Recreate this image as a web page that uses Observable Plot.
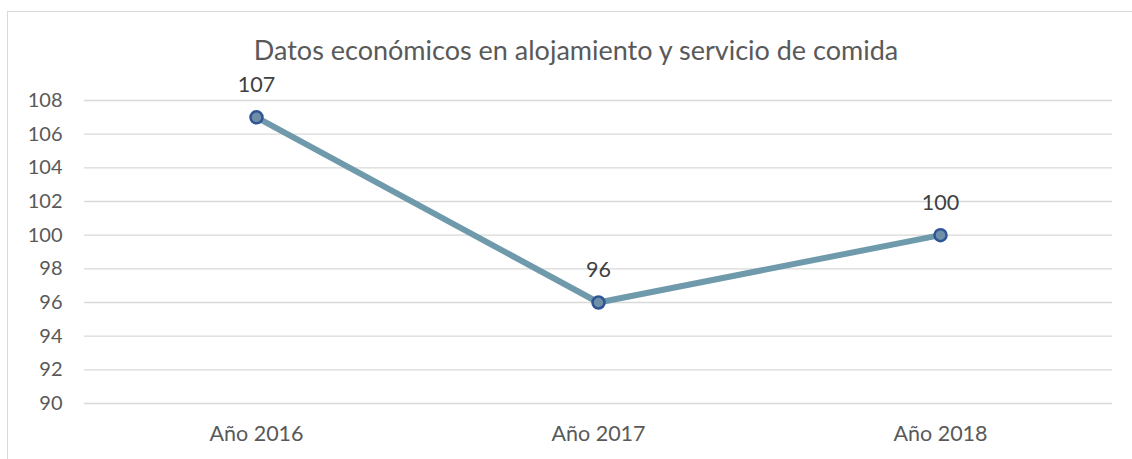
<!DOCTYPE html>
<html><head><meta charset="utf-8">
<script src="https://cdn.jsdelivr.net/npm/d3@7"></script>
<script src="https://cdn.jsdelivr.net/npm/@observablehq/plot@0.6"></script>
<style>
html,body{margin:0;padding:0;background:#fff;}
#wrap{position:relative;width:1132px;height:459px;overflow:hidden;font-family:Lato,"Liberation Sans",sans-serif;}
#frame{position:absolute;left:7px;top:11px;width:1200px;height:600px;border-left:1.5px solid #d9d9d9;border-top:1.5px solid #d9d9d9;}
#title{position:absolute;left:0;width:1152px;top:33px;text-align:center;font-size:27px;color:#595959;font-family:Lato,sans-serif;}
#chart{position:absolute;left:0;top:0;}
</style></head>
<body><div id="wrap"><div id="frame"></div><div id="chart"></div><div id="title">Datos económicos en alojamiento y servicio de comida</div></div>
<script>
const categories = ["Año 2016", "Año 2017", "Año 2018"];
const values = [107, 96, 100];
const yTicks = [90, 92, 94, 96, 98, 100, 102, 104, 106, 108];

const data = categories.map((c, i) => ({cat: c, v: values[i]}));
const font = "Lato, 'Liberation Sans', sans-serif";

const plot = Plot.plot({
  width: 1132,
  height: 459,
  marginTop: 100,
  marginBottom: 56,
  marginLeft: 84,
  marginRight: 20,
  style: {fontFamily: font, fontSize: "20px", color: "#595959", background: "transparent"},
  x: {type: "point", domain: categories, padding: 0.5, label: null},
  y: {domain: [90, 108], ticks: yTicks, label: null},
  marks: [
    Plot.ruleY(yTicks, {stroke: "#d9d9d9", strokeWidth: 1.3}),
    Plot.axisY({ticks: yTicks, tickSize: 0, tickPadding: 22, textAnchor: "end", fill: "#595959", label: null, fontSize: 20}),
    Plot.axisX({tickSize: 0, tickPadding: 22, fill: "#595959", label: null, fontSize: 21.5}),
    Plot.line(data, {x: "cat", y: "v", stroke: "#6f9aab", strokeWidth: 6, strokeLinejoin: "round"}),
    Plot.dot(data, {x: "cat", y: "v", r: 6, fill: "#6f8fa7", stroke: "#2f5597", strokeWidth: 2.5}),
    Plot.text(data, {x: "cat", y: "v", text: d => String(d.v), dy: -32, fill: "#404040", fontSize: 21.5})
  ]
});
document.getElementById("chart").appendChild(plot);
</script></body></html>
